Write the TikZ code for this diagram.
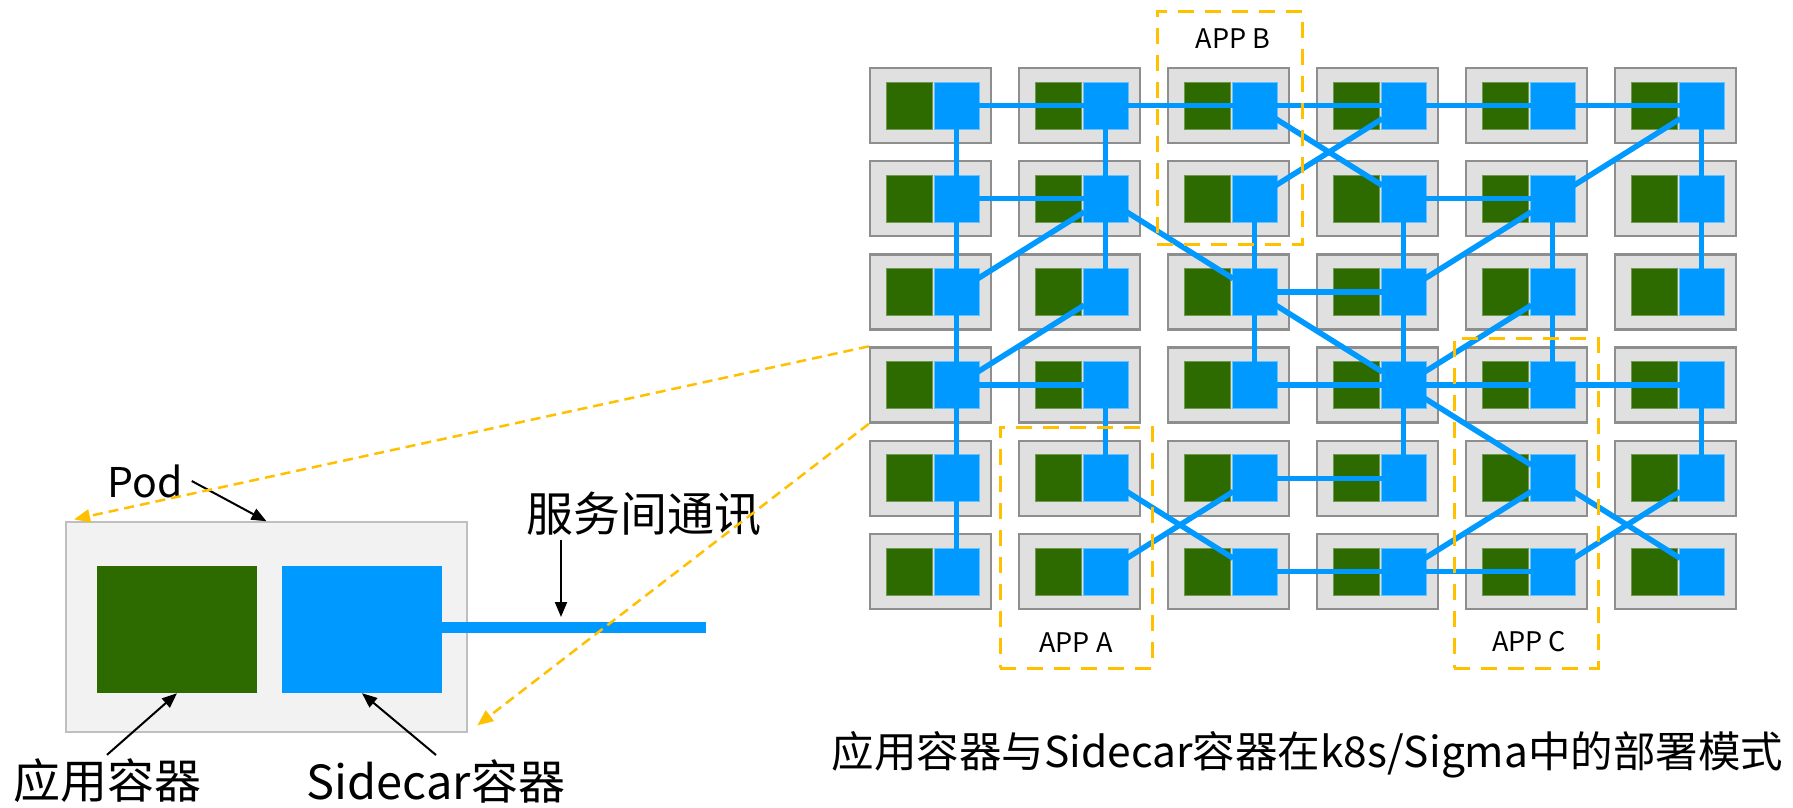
\documentclass[tikz,border=0pt]{standalone}
\usepackage{fontspec}
\newfontfamily\cjk{Noto Sans CJK SC}
\usetikzlibrary{arrows.meta}
\definecolor{podfill}{HTML}{E0E0E0}
\definecolor{podline}{HTML}{8E8E8E}
\definecolor{appgreen}{HTML}{2D6B00}
\definecolor{appgreenl}{HTML}{6F9A50}
\definecolor{sideblue}{HTML}{0099FF}
\definecolor{sidebluel}{HTML}{66C2FF}
\definecolor{yel}{HTML}{FFC000}
\definecolor{bigfill}{HTML}{F2F2F2}
\definecolor{bigline}{HTML}{BFBFBF}
\tikzset{
  podbox/.style={draw=podline, fill=podfill, line width=2.5pt, minimum width=121pt, minimum height=75pt, inner sep=0pt},
  appsq/.style={draw=appgreenl, fill=appgreen, line width=0.8pt, minimum width=46pt, minimum height=47pt, inner sep=0pt},
  sidesq/.style={draw=sidebluel, fill=sideblue, line width=0.8pt, minimum width=45pt, minimum height=47pt, inner sep=0pt},
  link/.style={draw=sideblue, line width=5.5pt, shorten <=-2pt, shorten >=-2pt},
  appgroup/.style={draw=yel, line width=3pt, dash pattern=on 16pt off 11pt, inner sep=0pt},
  applabel/.style={font=\cjk\fontsize{27pt}{32pt}\selectfont, inner sep=0pt},
  biglabel/.style={font=\cjk\fontsize{47pt}{56pt}\selectfont, inner sep=4pt},
  arr/.style={draw=black, line width=2pt, -{Triangle[length=15pt,width=12pt]}},
  ydash/.style={draw=yel, line width=2.5pt, dash pattern=on 10pt off 6pt, -{Triangle[length=16pt,width=13pt]}}
}
\begin{document}
\begin{tikzpicture}[x=1pt,y=-1pt]
\useasboundingbox (0,0) rectangle (1793,807);
% grid of pods
\foreach \r in {1,...,6}{
  \foreach \c in {1,...,6}{
    \pgfmathsetmacro\px{870+149*(\c-1)}
    \pgfmathsetmacro\py{68+93.2*(\r-1)}
    \node[podbox] (p\r\c) at (\px+60.5,\py+37.5) {};
    \node[appsq] (g\r\c) at (\px+39,\py+37.5) {};
    \node[sidesq] (b\r\c) at (\px+86.5,\py+37.5) {};
  }
}
% connections
\foreach \a/\b in {11/12,12/13,13/14,14/15,15/16,21/22,24/25,33/34,41/42,43/44,44/45,45/46,53/54,63/64,64/65,
  11/21,21/31,31/41,41/51,51/61,12/22,22/32,42/52,23/33,33/43,24/34,34/44,44/54,25/35,35/45,16/26,26/36,46/56,
  22/31,22/33,32/41,13/24,23/14,16/25,25/34,33/44,44/35,44/55,52/63,62/53,64/55,55/66,65/56}{
  \draw[link] (b\a) -- (b\b);
}
% app groups
\node[appgroup, minimum width=145pt, minimum height=233pt] (grpB) at (1229.5,127.5) {};
\node[applabel] (lblB) at (1233,39) {APP B};
\node[appgroup, minimum width=152pt, minimum height=241pt] (grpA) at (1076,547.5) {};
\node[applabel] (lblA) at (1076,643) {APP A};
\node[appgroup, minimum width=144pt, minimum height=330pt] (grpC) at (1526,503) {};
\node[applabel] (lblC) at (1529,642) {APP C};
% big pod
\node[draw=bigline, fill=bigfill, line width=1.5pt, minimum width=401pt, minimum height=210pt, inner sep=0pt] (bigpod) at (266.5,627) {};
\node[fill=appgreen, minimum width=160pt, minimum height=127pt, inner sep=0pt] (biggreen) at (177,629.5) {};
\node[fill=sideblue, minimum width=160pt, minimum height=127pt, inner sep=0pt] (bigblue) at (362,629.5) {};
\coordinate (lineend) at (706,627);
\draw[draw=sideblue, line width=11pt] (bigblue.east |- lineend) -- (lineend);
% labels
\node[biglabel, font=\cjk\fontsize{41pt}{50pt}\selectfont, inner sep=9pt] (podlbl) at (145,481) {Pod};
\draw[arr] (podlbl.east) -- (bigpod.north);
\node[biglabel] (commlbl) at (644,514) {服务间通讯};
\coordinate (commtip) at (561,617);
\draw[arr] (commlbl.south -| commtip) -- (commtip);
\node[biglabel] (applbl) at (107,781) {应用容器};
\draw[arr] (applbl.north) -- (biggreen.south);
\node[biglabel] (sidelbl) at (436,781) {Sidecar容器};
\draw[arr] (sidelbl.north) -- (bigblue.south);
% zoom lines
\draw[ydash, shorten >=9pt] (p41.north west) -- (bigpod.north west);
\draw[ydash, shorten >=12pt] (p41.south west) -- (bigpod.south east);
% caption
\node[font=\cjk\fontsize{42.5pt}{50pt}\selectfont, inner sep=0pt] (caption) at (1307.5,755) {应用容器与Sidecar容器在k8s/Sigma中的部署模式};
\end{tikzpicture}
\end{document}
